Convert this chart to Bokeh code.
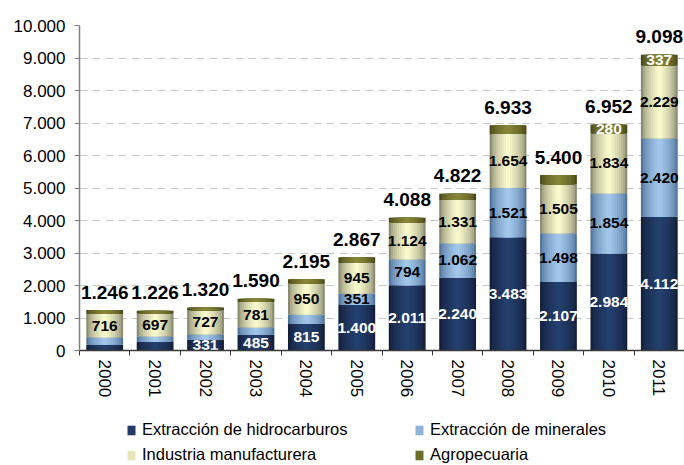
import numpy as np
from bokeh.plotting import figure
from bokeh.layouts import column
from bokeh.models import FixedTicker, Legend, LegendItem, ColumnDataSource, Range1d
from bokeh.core.properties import value
from bokeh.embed import file_html
from bokeh.resources import INLINE

# ---------------- data ----------------
years = [2000, 2001, 2002, 2003, 2004, 2005, 2006, 2007, 2008, 2009, 2010, 2011]
hidrocarburos = [180, 260, 331, 485, 815, 1400, 2011, 2240, 3483, 2107, 2984, 4112]
minerales = [230, 175, 172, 230, 290, 351, 794, 1062, 1521, 1498, 1854, 2420]
industria = [716, 697, 727, 781, 950, 945, 1124, 1331, 1654, 1505, 1834, 2229]
agropecuaria = [120, 94, 90, 94, 140, 171, 159, 189, 275, 290, 280, 337]
totales = [1246, 1226, 1320, 1590, 2195, 2867, 4088, 4822, 6933, 5400, 6952, 9098]

series_names = ["Extracción de hidrocarburos", "Extracción de minerales",
                "Industria manufacturera", "Agropecuaria"]
# which segment values are printed inside the bars
show_hidro = [False, False, True, True, True, True, True, True, True, True, True, True]
show_min = [False, False, False, False, False, True, True, True, True, True, True, True]
show_ind = [True] * 12
show_agro = [False] * 10 + [True, True]

y_ticks = [0, 1000, 2000, 3000, 4000, 5000, 6000, 7000, 8000, 9000, 10000]
y_tick_labels = ["0", "1.000", "2.000", "3.000", "4.000", "5.000", "6.000",
                 "7.000", "8.000", "9.000", "10.000"]

# ---------------- styles ----------------
FONT = "Liberation Sans"
BAR_W = 0.73
edge_cols = ["#141f38", "#52739c", "#8a8a70", "#4a4a1a"]
center_cols = ["#24406f", "#a2c6ea", "#f8f8cc", "#868638"]
legend_cols = ["#22396a", "#8fb2d8", "#e6e6bb", "#6e6e2c"]
label_cols = ["white", "black", "black", "white"]


def fmt(v):
    return f"{v:,}".replace(",", ".")


def mix(c1, c2, t):
    a = [int(c1[i:i + 2], 16) for i in (1, 3, 5)]
    b = [int(c2[i:i + 2], 16) for i in (1, 3, 5)]
    return "#" + "".join(f"{int(round(x + (y - x) * t)):02x}" for x, y in zip(a, b))


p = figure(width=684, height=400, x_range=(1999.5, 2011.5), y_range=(0, 10000),
           output_backend="svg", toolbar_location=None,
           min_border_left=79, min_border_top=25, min_border_right=0, min_border_bottom=50)
p.outline_line_color = None
p.background_fill_color = "white"

vals = [hidrocarburos, minerales, industria, agropecuaria]
shows = [show_hidro, show_min, show_ind, show_agro]
bottom = np.zeros(len(years))
N = 9
for si, v in enumerate(vals):
    v = np.array(v, dtype=float)
    top = bottom + v
    for k in range(N):
        w = BAR_W * (1 - k / N)
        t = (k / (N - 1)) ** 0.6
        p.vbar(x=years, width=w, bottom=bottom.tolist(), top=top.tolist(),
               fill_color=mix(edge_cols[si], center_cols[si], t), line_color=None)
    sel = [i for i, s in enumerate(shows[si]) if s]
    src = ColumnDataSource(dict(
        x=[years[i] for i in sel],
        y=[float(bottom[i] + top[i]) / 2 for i in sel],
        t=[fmt(int(v[i])) for i in sel]))
    p.text(x="x", y="y", text="t", source=src, text_align="center", text_baseline="middle",
           text_font=value(FONT), text_font_style="bold", text_font_size="15.5px",
           text_color=label_cols[si])
    bottom = top

tot_src = ColumnDataSource(dict(x=years, y=totales, t=[fmt(v) for v in totales]))
p.text(x="x", y="y", text="t", source=tot_src, text_align="center", text_baseline="alphabetic",
       y_offset=-18, text_font=value(FONT), text_font_style="bold", text_font_size="19px",
       text_color="black")

# grid
p.xgrid.grid_line_color = None
p.ygrid.ticker = FixedTicker(ticks=y_ticks)
p.ygrid.grid_line_color = "#c8c8c8"
p.ygrid.grid_line_dash = "8 5"

# y axis
p.yaxis.ticker = FixedTicker(ticks=y_ticks)
p.yaxis.major_label_overrides = {t: l for t, l in zip(y_ticks, y_tick_labels)}
p.yaxis.axis_line_color = "#808080"
p.yaxis.axis_line_width = 1.5
p.yaxis.major_tick_line_color = "#808080"
p.yaxis.major_tick_out = 5
p.yaxis.major_tick_in = 0
p.yaxis.minor_tick_line_color = None
p.yaxis.major_label_standoff = 9
p.yaxis.major_label_text_font = FONT
p.yaxis.major_label_text_font_size = "17px"
p.yaxis.major_label_text_color = "black"

# x axis
bounds = [float(y) - 0.5 for y in years] + [years[-1] + 0.5]
p.xaxis.ticker = FixedTicker(ticks=years, minor_ticks=bounds)
p.xaxis.axis_line_color = "#3a3a3a"
p.xaxis.axis_line_width = 1.5
p.xaxis.major_tick_line_color = None
p.xaxis.major_tick_out = 0
p.xaxis.major_tick_in = 0
p.xaxis.minor_tick_line_color = "#3a3a3a"
p.xaxis.minor_tick_out = 5
p.xaxis.minor_tick_in = 0
p.xaxis.major_label_orientation = "vertical"
p.xaxis.major_label_standoff = 4
p.xaxis.major_label_text_font = FONT
p.xaxis.major_label_text_font_size = "17px"
p.xaxis.major_label_text_color = "black"

# ---------------- legend (separate strip below) ----------------
pl = figure(width=684, height=64, x_range=Range1d(0, 1), y_range=Range1d(0, 1),
            output_backend="svg", toolbar_location=None,
            x_axis_location=None, y_axis_location=None,
            min_border_left=0, min_border_right=0, min_border_top=0, min_border_bottom=0)
pl.outline_line_color = None
pl.xgrid.grid_line_color = None
pl.ygrid.grid_line_color = None
items = []
for si in range(4):
    r = pl.vbar(x=[5], width=0.1, top=[1], fill_color=legend_cols[si], line_color=None)
    items.append(LegendItem(label=series_names[si], renderers=[r]))
order = [0, 2, 1, 3]
legend = Legend(items=[items[i] for i in order], orientation="vertical", ncols=2,
                location=(47, 0), margin=0, padding=2, spacing=6,
                glyph_width=10, glyph_height=12, label_standoff=6,
                label_width=266, label_height=18,
                label_text_font=FONT, label_text_font_size="16.5px",
                label_text_color="black", border_line_color=None,
                background_fill_alpha=0)
pl.add_layout(legend, "center")

open("out.html", "w").write(file_html(column(p, pl), INLINE))
